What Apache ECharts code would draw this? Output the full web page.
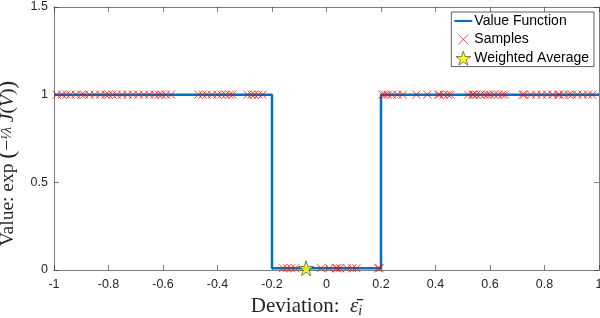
<!DOCTYPE html>
<html><head><meta charset="utf-8">
<script src="https://cdn.jsdelivr.net/npm/echarts@6/dist/echarts.min.js"></script>
<style>html,body{margin:0;padding:0;background:#fff}#c{width:600px;height:318px}</style>
</head><body><div id="c"></div>
<script>
// Value function (step)
const vfX = [-1, -0.2, -0.2, 0.2, 0.2, 1];
const vfY = [1, 1, 0.01, 0.01, 1, 1];
// Samples
const samplesLeftX = [-0.99,-0.97,-0.955,-0.94,-0.92,-0.90,-0.89,-0.87,-0.85,-0.83,-0.81,-0.80,-0.785,-0.77,-0.75,-0.73,-0.71,-0.69,-0.67,-0.65,-0.63,-0.615,-0.605,-0.59,-0.57,-0.47,-0.455,-0.44,-0.42,-0.40,-0.385,-0.37,-0.355,-0.345,-0.29,-0.275,-0.265,-0.25,-0.235];
const samplesRightX = [0.205,0.215,0.225,0.24,0.26,0.28,0.33,0.37,0.41,0.415,0.43,0.445,0.455,0.52,0.535,0.54,0.55,0.565,0.58,0.59,0.6,0.615,0.63,0.645,0.655,0.72,0.725,0.75,0.77,0.79,0.81,0.83,0.85,0.855,0.87,0.89,0.9,0.92,0.94,0.96,0.975];
const samplesMidX = [-0.16,-0.145,-0.13,-0.115,-0.02,0.01,0.035,0.04,0.05,0.075,0.095,0.11,0.19,0.195];
const highValue = 1;
const lowValue = 0.01;
const avgX = -0.075, avgY = 0.01;
const xTicks = {min: -1, max: 1, interval: 0.2};
const yTicks = {min: 0, max: 1.5, interval: 0.5};

const sampleData = [];
samplesLeftX.forEach(x => sampleData.push([x, highValue]));
samplesRightX.forEach(x => sampleData.push([x, highValue]));
samplesMidX.forEach(x => sampleData.push([x, lowValue]));
const vfData = vfX.map((x, i) => [x, vfY[i]]);

const crossPath = 'path://M0,0L10,10M10,0L0,10';
const crossLegend = 'path://M-2,-2L-1.99,-1.99M0,0L10,10M10,0L0,10M11.99,11.99L12,12';
const starPath = 'path://M50,0L61.2,34.5L97.6,34.5L68.2,55.9L79.4,90.5L50,69.1L20.6,90.5L31.8,55.9L2.4,34.5L38.8,34.5Z';
const axCol = '#262626';
const serif = '"Liberation Serif","DejaVu Serif",serif';
const sans = '"Liberation Sans", Arial, sans-serif';

const chart = echarts.init(document.getElementById('c'));
chart.setOption({
  animation: false,
  grid: {left: 54, right: 1, top: 7, bottom: 48, show: false, outerBoundsMode: 'none', containLabel: false},
  legend: {
    right: 6, top: 12, orient: 'vertical', itemGap: 4,
    borderColor: '#333', borderWidth: 0.8, padding: [2, 5, 1, 3],
    backgroundColor: '#fff',
    itemWidth: 18, itemHeight: 14,
    textStyle: {fontFamily: sans, fontSize: 14, color: '#000', padding: [0,0,0,-3]},
    data: [
      {name: 'Value Function', icon: 'path://M0,5.6L24,5.6L24,8.4L0,8.4Z', itemStyle: {color: '#0072BD', borderWidth: 0}},
      {name: 'Samples', icon: crossLegend, itemStyle: {color: 'rgba(0,0,0,0)', borderColor: '#ff0000', borderWidth: 0.8}},
      {name: 'Weighted Average', icon: starPath, itemStyle: {color: '#ffff00', borderColor: '#333', borderWidth: 0.8}}
    ]
  },
  xAxis: [{
    type: 'value', min: xTicks.min, max: xTicks.max, interval: xTicks.interval,
    axisLine: {onZero: false, lineStyle: {color: axCol, width: 0.6}},
    axisTick: {inside: true, length: 5, lineStyle: {color: axCol, width: 0.6}},
    splitLine: {show: false},
    axisLabel: {color: axCol, fontSize: 12.5, fontFamily: sans, margin: 8,
      formatter: v => String(Math.round(v * 10) / 10)},
    name: '{n|Deviation:  }{i|ε̄}{s|i}', nameLocation: 'middle', nameGap: 24,
    nameTextStyle: {padding: [0, 40, 0, 0], rich: {
      n: {fontFamily: serif, fontSize: 21, color: axCol},
      i: {fontFamily: serif, fontSize: 21, fontStyle: 'italic', color: axCol},
      s: {fontFamily: serif, fontSize: 14, fontStyle: 'italic', color: axCol, padding: [10, 0, 0, 0]}
    }}
  }, {
    type: 'value', position: 'top', min: xTicks.min, max: xTicks.max, interval: xTicks.interval,
    axisLine: {show: true, onZero: false, lineStyle: {color: axCol, width: 0.6}},
    axisTick: {inside: true, length: 5, lineStyle: {color: axCol, width: 0.6}},
    axisLabel: {show: false}, splitLine: {show: false}
  }],
  yAxis: [{
    type: 'value', min: yTicks.min, max: yTicks.max, interval: yTicks.interval,
    axisLine: {show: true, onZero: false, lineStyle: {color: axCol, width: 0.6}},
    axisTick: {show: true, inside: true, length: 5, lineStyle: {color: axCol, width: 0.6}},
    splitLine: {show: false},
    axisLabel: {color: axCol, fontSize: 12.5, fontFamily: sans, margin: 6},
    name: '{n|Value: exp }{p|(}{n|−}{f|¹⁄λ}{n| }{i|J}{n|(}{i|V}{n|)}{p|)}', nameLocation: 'middle', nameGap: 25,
    nameTextStyle: {padding: [0, 50, 0, 0], rich: {
      n: {fontFamily: serif, fontSize: 19.5, color: axCol},
      p: {fontFamily: serif, fontSize: 24, color: axCol},
      i: {fontFamily: serif, fontSize: 19.5, fontStyle: 'italic', color: axCol},
      f: {fontFamily: serif, fontSize: 14, fontStyle: 'italic', color: axCol}
    }}
  }, {
    type: 'value', position: 'right', min: yTicks.min, max: yTicks.max, interval: yTicks.interval,
    axisLine: {show: true, onZero: false, lineStyle: {color: axCol, width: 0.6}},
    axisTick: {show: true, inside: true, length: 5, lineStyle: {color: axCol, width: 0.6}},
    axisLabel: {show: false}, splitLine: {show: false}
  }],
  series: [
    {name: 'Value Function', type: 'line', data: vfData, showSymbol: false, symbol: 'none',
     lineStyle: {color: '#0072BD', width: 2.5}, itemStyle: {color: '#0072BD'}, z: 2},
    {name: 'Samples', type: 'scatter', data: sampleData, symbol: crossPath, symbolSize: 8,
     itemStyle: {color: 'rgba(0,0,0,0)', borderColor: '#ff0000', borderWidth: 0.9, opacity: 0.85}, z: 3},
    {name: 'Weighted Average', type: 'scatter', data: [[avgX, avgY]], symbol: starPath, symbolSize: 15,
     itemStyle: {color: '#ffff00', borderColor: '#333', borderWidth: 0.8}, z: 4}
  ]
});
</script></body></html>
